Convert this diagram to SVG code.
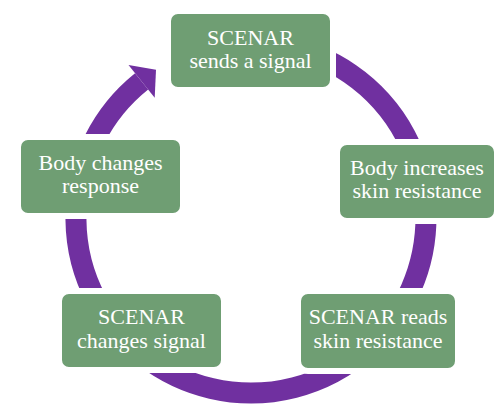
<svg xmlns="http://www.w3.org/2000/svg" width="500" height="411" viewBox="0 0 500 411">
<style>
.box{fill:#6f9e73;stroke:#ffffff;stroke-width:6}
.lbl{font-family:"Liberation Serif","DejaVu Serif",serif;font-size:22px;fill:#ffffff;text-anchor:middle}
.ring{fill:none;stroke:#7030a0;stroke-width:21}
</style>
<rect width="500" height="411" fill="#ffffff"/>
<g id="connectors">
<path class="ring" d="M281.4 45.7 A175 175 0 1 1 141.6 81.4"/>
<polygon points="128.5,65 156,69.8 154.7,97.8" fill="#7030a0"/>
</g>
<g id="n1">
<rect class="box" x="168" y="11" width="165" height="79" rx="10"/>
<text class="lbl" x="250.5" y="45">SCENAR</text>
<text class="lbl" x="250.5" y="68">sends a signal</text>
</g>
<g id="n2">
<rect class="box" x="337" y="142" width="160" height="79" rx="10"/>
<text class="lbl" x="417" y="175">Body increases</text>
<text class="lbl" x="417" y="198">skin resistance</text>
</g>
<g id="n3">
<rect class="box" x="298" y="291" width="160" height="80" rx="10"/>
<text class="lbl" x="378" y="324">SCENAR reads</text>
<text class="lbl" x="378" y="348">skin resistance</text>
</g>
<g id="n4">
<rect class="box" x="59" y="291" width="165" height="79" rx="10"/>
<text class="lbl" x="141.5" y="324">SCENAR</text>
<text class="lbl" x="141.5" y="348">changes signal</text>
</g>
<g id="n5">
<rect class="box" x="18" y="137" width="165" height="79" rx="10"/>
<text class="lbl" x="100.5" y="170">Body changes</text>
<text class="lbl" x="100.5" y="193">response</text>
</g>
</svg>
